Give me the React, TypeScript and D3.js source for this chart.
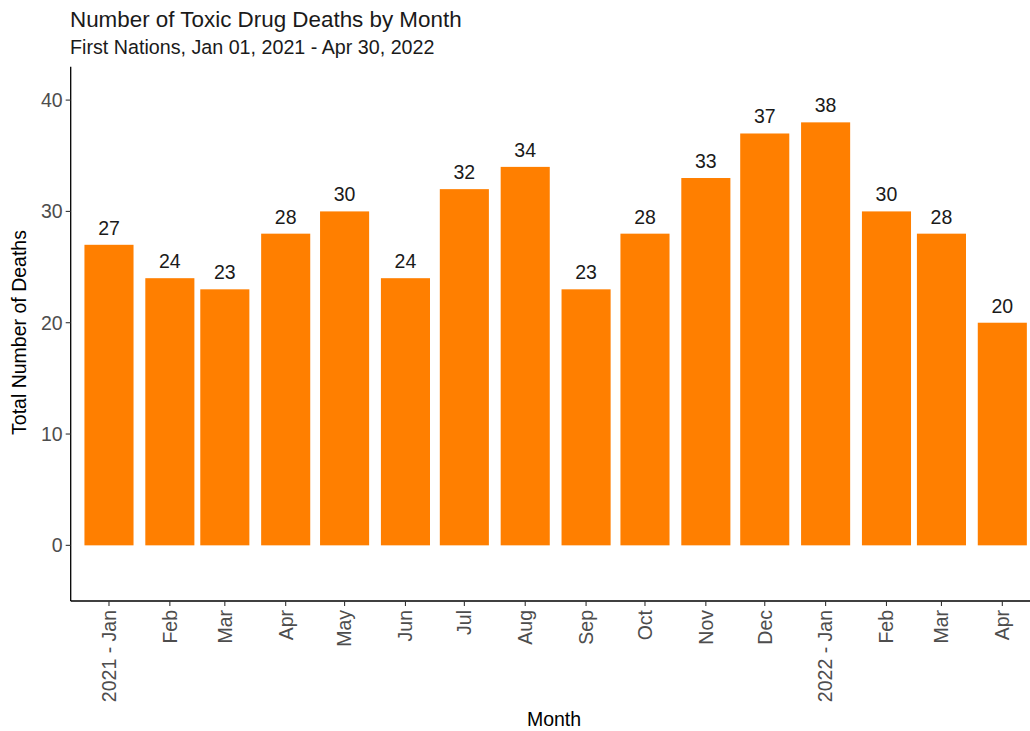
import React, { useMemo } from 'react';
import * as d3 from 'd3';

const months = [
  '2021-01-01', '2021-02-01', '2021-03-01', '2021-04-01', '2021-05-01', '2021-06-01',
  '2021-07-01', '2021-08-01', '2021-09-01', '2021-10-01', '2021-11-01', '2021-12-01',
  '2022-01-01', '2022-02-01', '2022-03-01', '2022-04-01'
];
const deaths = [27, 24, 23, 28, 30, 24, 32, 34, 23, 28, 33, 37, 38, 30, 28, 20];
const monthLabels = [
  '2021 - Jan', 'Feb', 'Mar', 'Apr', 'May', 'Jun', 'Jul', 'Aug', 'Sep', 'Oct', 'Nov', 'Dec',
  '2022 - Jan', 'Feb', 'Mar', 'Apr'
];
const yTicks = [0, 10, 20, 30, 40];

const W = 1030;
const H = 731;
const DAY = 86400000;
const FONT = '"Liberation Sans", Arial, sans-serif';
const ORANGE = '#FF7F00';

const App: React.FC = () => {
  const dates = useMemo(() => months.map(m => new Date(m + 'T00:00:00Z')), []);

  // date axis, padded by ~19.5 days on each side
  const x = useMemo(() => d3.scaleUtc()
    .domain([new Date(+dates[0] - 19.5 * DAY), new Date(+dates[dates.length - 1] + 19.5 * DAY)])
    .range([70.7, 1040.6]), [dates]);

  const y = useMemo(() => d3.scaleLinear().domain([-5, 43]).range([601, 66.7]), []);

  const barW = x(new Date(+dates[0] + 25 * DAY)) - x(dates[0]);
  const left = 70.7;
  const bottom = 601;

  return (
    <svg width={W} height={H} style={{ position: 'absolute', left: 0, top: 0, background: '#fff' }}
      fontFamily={FONT}>
      <text x={70} y={26.5} fontSize={22.4} fill="#1a1a1a">Number of Toxic Drug Deaths by Month</text>
      <text x={70} y={54} fontSize={19.7} fill="#1a1a1a">First Nations, Jan 01, 2021 - Apr 30, 2022</text>

      {/* bars */}
      {dates.map((d, i) => (
        <rect key={'b' + i}
          x={x(d) - barW / 2} y={y(deaths[i])}
          width={barW} height={y(0) - y(deaths[i])}
          fill={ORANGE} />
      ))}

      {/* value labels */}
      {dates.map((d, i) => (
        <text key={'v' + i} x={x(d)} y={y(deaths[i]) - 10} textAnchor="middle"
          fontSize={19.5} fill="#1a1a1a">{deaths[i]}</text>
      ))}

      {/* y axis */}
      <line x1={left} x2={left} y1={66.7} y2={bottom} stroke="#000" strokeWidth={1.3} />
      {yTicks.map(t => (
        <g key={'y' + t} transform={`translate(0,${y(t)})`}>
          <line x1={left - 5} x2={left} stroke="#333" strokeWidth={1.1} />
          <text x={left - 8} dy="0.35em" textAnchor="end" fontSize={19.5} fill="#4D4D4D">{t}</text>
        </g>
      ))}

      {/* x axis */}
      <line x1={left} x2={W} y1={bottom} y2={bottom} stroke="#000" strokeWidth={1.3} />
      {dates.map((d, i) => (
        <g key={'x' + i} transform={`translate(${x(d)},${bottom})`}>
          <line y1={0} y2={5} stroke="#333" strokeWidth={1.1} />
          <text transform="rotate(-90)" x={-9} dy="0.35em" textAnchor="end"
            fontSize={19.5} fill="#4D4D4D">{monthLabels[i]}</text>
        </g>
      ))}

      <text x={554} y={726} textAnchor="middle" fontSize={19.5} fill="#000">Month</text>
      <text transform={`translate(26,332.5) rotate(-90)`} textAnchor="middle" fontSize={19.5}
        fill="#000">Total Number of Deaths</text>
    </svg>
  );
};

export default App;
